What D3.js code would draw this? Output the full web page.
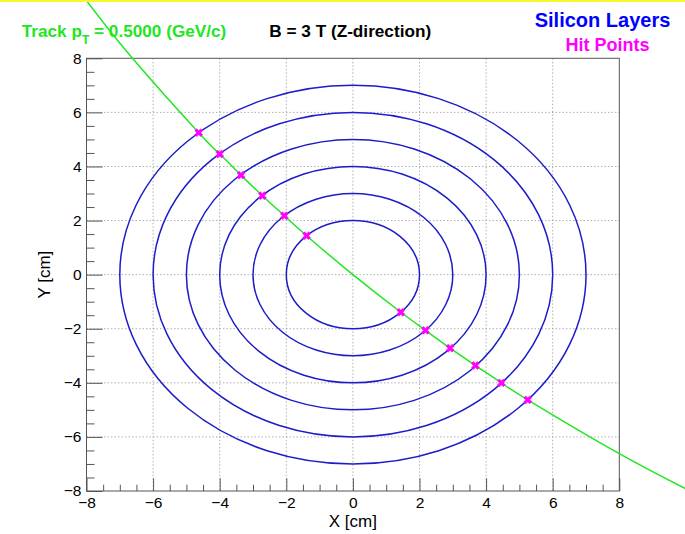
<!DOCTYPE html>
<html>
<head>
<meta charset="utf-8">
<script src="https://cdn.jsdelivr.net/npm/d3@7"></script>
<style>
  html, body { margin: 0; padding: 0; background: #fff; }
  svg { display: block; font-family: "Liberation Sans", Arial, Helvetica, sans-serif; }
</style>
</head>
<body>
<svg id="chart" width="685" height="534"></svg>
<script>
// ---- data ----
const layerRadii = [2, 3, 4, 5, 6, 7];
const trackX = [-8.08, -6.62, -4.63, -4.00, -3.36, -2.72, -2.06, -1.39, 0, 1.44, 2.18, 2.92, 3.68, 4.46, 5.25, 8.00, 10.26];
const trackY = [10.26, 8.00, 5.25, 4.46, 3.68, 2.92, 2.18, 1.44, 0, -1.39, -2.06, -2.72, -3.36, -4.00, -4.63, -6.62, -8.08];
const hitX = [-4.63, -4.00, -3.36, -2.72, -2.06, -1.39, 1.44, 2.18, 2.92, 3.68, 4.46, 5.25];
const hitY = [5.25, 4.46, 3.68, 2.92, 2.18, 1.44, -1.39, -2.06, -2.72, -3.36, -4.00, -4.63];
const majorTicks = [-8, -6, -4, -2, 0, 2, 4, 6, 8];
const gridTicks = [-6, -4, -2, 0, 2, 4, 6];
const minorTicks = d3.range(-8, 8.01, 0.5).filter(v => Math.abs(v % 2) > 1e-9);

// ---- layout ----
const svg = d3.select("#chart");
const W = 685, H = 534;
const x = d3.scaleLinear().domain([-8, 8]).range([86.5, 619.3]);
const y = d3.scaleLinear().domain([-8, 8]).range([491, 58.3]);
const fx0 = x(-8), fx1 = x(8), fy0 = y(8), fy1 = y(-8);

svg.append("rect").attr("width", W).attr("height", H).attr("fill", "#fff");

// grid
const grid = svg.append("g").attr("stroke", "#9a9a9a").attr("stroke-width", 0.8).attr("stroke-dasharray", "1.5,2");
grid.selectAll("line.gx").data(gridTicks).join("line")
  .attr("x1", d => x(d)).attr("x2", d => x(d)).attr("y1", fy0).attr("y2", fy1);
grid.selectAll("line.gy").data(gridTicks).join("line")
  .attr("y1", d => y(d)).attr("y2", d => y(d)).attr("x1", fx0).attr("x2", fx1);

// axes
const axisColor = "#555";
const fmt = d3.format("d");
const xAxis = svg.append("g").attr("transform", `translate(0,${fy1})`)
  .call(d3.axisBottom(x).tickValues(majorTicks).tickSize(-12.7).tickSizeOuter(0).tickPadding(5.5).tickFormat(fmt));
const xMinor = svg.append("g").attr("transform", `translate(0,${fy1})`)
  .call(d3.axisBottom(x).tickValues(minorTicks).tickSize(-6.3).tickSizeOuter(0).tickFormat(""));
const yAxis = svg.append("g").attr("transform", `translate(${fx0},0)`)
  .call(d3.axisLeft(y).tickValues(majorTicks).tickSize(-16).tickSizeOuter(0).tickPadding(5).tickFormat(fmt));
const yMinor = svg.append("g").attr("transform", `translate(${fx0},0)`)
  .call(d3.axisLeft(y).tickValues(minorTicks).tickSize(-8).tickSizeOuter(0).tickFormat(""));
[xAxis, xMinor, yAxis, yMinor].forEach(g => {
  g.select(".domain").remove();
  g.selectAll("line").attr("stroke", axisColor).attr("stroke-width", 1);
  g.selectAll("text").attr("fill", "#000").attr("font-size", 15.5)
    .attr("font-family", "'Liberation Sans', Arial, sans-serif");
});

// frame
svg.append("rect").attr("x", fx0).attr("y", fy0).attr("width", fx1 - fx0).attr("height", fy1 - fy0)
  .attr("fill", "none").attr("stroke", axisColor).attr("stroke-width", 1);

// axis titles
svg.append("text").attr("x", (fx0 + fx1) / 2).attr("y", 526.5).attr("text-anchor", "middle")
  .attr("font-size", 17).attr("fill", "#000").text("X [cm]");
svg.append("text").attr("transform", `translate(50,${(fy0 + fy1) / 2}) rotate(-90)`)
  .attr("text-anchor", "middle").attr("font-size", 17).attr("fill", "#000").text("Y [cm]");

// silicon layers
svg.append("g").selectAll("ellipse").data(layerRadii).join("ellipse")
  .attr("cx", x(0)).attr("cy", y(0))
  .attr("rx", d => x(d) - x(0)).attr("ry", d => y(0) - y(d))
  .attr("fill", "none").attr("stroke", "#1c1cc8").attr("stroke-width", 1.5);

// titles
const title = svg.append("text").attr("x", 21.7).attr("y", 37.3).attr("font-size", 17.2)
  .attr("font-weight", "bold").attr("fill", "#22e622");
title.append("tspan").text("Track p");
title.append("tspan").attr("dy", 7).attr("font-size", 12).text("T");
title.append("tspan").attr("dy", -7).text(" = 0.5000 (GeV/c)");

svg.append("text").attr("x", 269.3).attr("y", 37.3).attr("font-size", 17.2)
  .attr("font-weight", "bold").attr("fill", "#000").text("B = 3 T (Z-direction)");

svg.append("text").attr("x", 602.5).attr("y", 26.5).attr("text-anchor", "middle").attr("font-size", 20)
  .attr("font-weight", "bold").attr("fill", "#0000ff").text("Silicon Layers");
svg.append("text").attr("x", 607.5).attr("y", 50.5).attr("text-anchor", "middle").attr("font-size", 18)
  .attr("font-weight", "bold").attr("fill", "#ff00ff").text("Hit Points");

// track
const trackPts = trackX.map((v, i) => [v, trackY[i]]);
svg.append("path").datum(trackPts)
  .attr("d", d3.line().x(d => x(d[0])).y(d => y(d[1])).curve(d3.curveNatural))
  .attr("fill", "none").attr("stroke", "#22e622").attr("stroke-width", 1.5);

// hits
const hitPts = hitX.map((v, i) => [v, hitY[i]]);
svg.append("g").selectAll("path").data(hitPts).join("path")
  .attr("transform", d => `translate(${x(d[0])},${y(d[1])}) rotate(45)`)
  .attr("d", d3.symbol().type(d3.symbolCross).size(38))
  .attr("fill", "#ff00ff").attr("stroke", "#ff00ff").attr("stroke-width", 0.6);

// top yellow band
svg.append("rect").attr("x", 0).attr("y", 0).attr("width", W).attr("height", 2).attr("fill", "#f7f72a");
</script>
</body>
</html>
